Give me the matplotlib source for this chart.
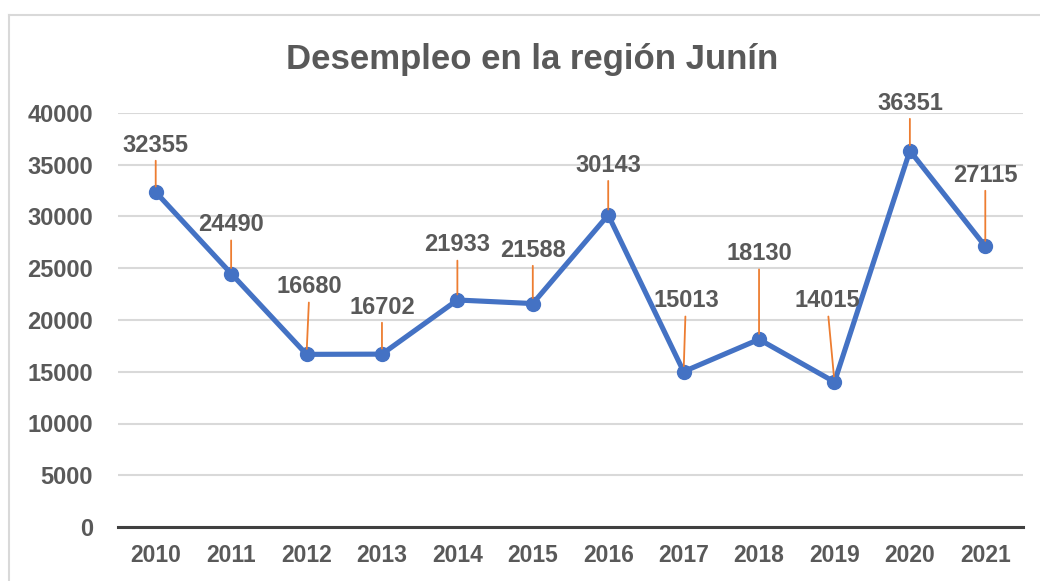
import matplotlib
matplotlib.use("Agg")
import matplotlib.pyplot as plt
from matplotlib.lines import Line2D

years = ["2010", "2011", "2012", "2013", "2014", "2015", "2016", "2017", "2018", "2019", "2020", "2021"]
values = [32355, 24490, 16680, 16702, 21933, 21588, 30143, 15013, 18130, 14015, 36351, 27115]
# label anchor positions (data units)
label_x = [0.0, 1.0, 2.04, 3.0, 4.0, 5.0, 6.0, 7.03, 8.0, 8.9, 10.0, 11.0]
label_y = [36900, 29200, 23200, 21250, 27250, 26750, 34950, 21850, 26400, 21850, 40950, 34000]
yticks = [0, 5000, 10000, 15000, 20000, 25000, 30000, 35000, 40000]

FONT = ["Liberation Sans", "DejaVu Sans"]
plt.rcParams["font.family"] = FONT
TXT = "#595959"

fig = plt.figure(figsize=(10.4, 5.81), dpi=100)
# chart border (top and left visible)
fig.add_artist(Line2D([9/1040, 9/1040], [0, 1 - 15/581], transform=fig.transFigure, color="#d9d9d9", lw=1.5))
fig.add_artist(Line2D([9/1040, 1], [1 - 15/581, 1 - 15/581], transform=fig.transFigure, color="#d9d9d9", lw=1.5))

ax = fig.add_axes([118/1040, 54/581, 905/1040, 414/581])
x = list(range(len(years)))
ax.set_xlim(-0.5, len(years) - 0.5)
ax.set_ylim(0, 40000)
ax.set_yticks(yticks)
ax.set_yticklabels([str(v) for v in yticks])
ax.set_xticks(x)
ax.set_xticklabels(years)
ax.grid(axis="y", color="#d9d9d9", lw=1.5)
ax.set_axisbelow(True)
for s in ["top", "right", "left"]:
    ax.spines[s].set_visible(False)
ax.spines["bottom"].set_color("#404040")
ax.spines["bottom"].set_linewidth(2.2)
ax.tick_params(axis="both", length=0, labelcolor=TXT)
ax.tick_params(axis="x", pad=12, labelsize=16.5)
ax.tick_params(axis="y", pad=18, labelsize=17)
for t in ax.get_xticklabels() + ax.get_yticklabels():
    t.set_fontweight("bold")

ax.plot(x, values, color="#4472C4", lw=3.7, marker="o", markersize=10, zorder=3)

for xi, v, lx, ly in zip(x, values, label_x, label_y):
    ax.annotate(str(v), xy=(xi, v), xytext=(lx, ly), textcoords="data",
                ha="center", va="center", fontsize=17, fontweight="bold", color=TXT,
                annotation_clip=False,
                arrowprops=dict(arrowstyle="-", color="#ED7D31", lw=1.3, shrinkA=1, shrinkB=4),
                zorder=4)

fig.text(532/1040, 1 - 60/581, "Desempleo en la región Junín", ha="center", va="center",
         fontsize=25, fontweight="bold", color=TXT)

fig.savefig("out.png", dpi=100)
